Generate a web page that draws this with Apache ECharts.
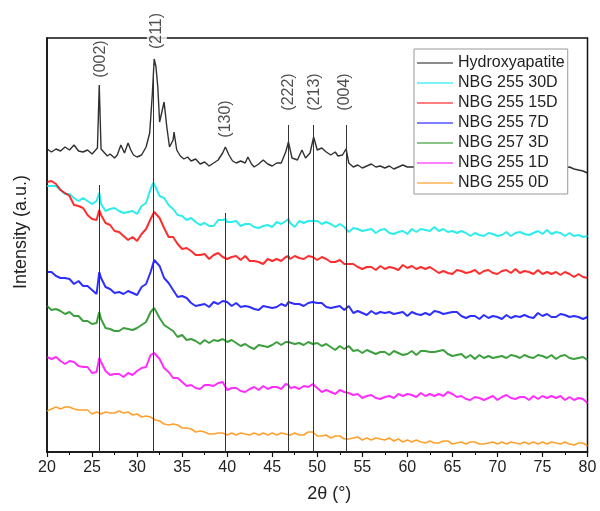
<!DOCTYPE html>
<html>
<head>
<meta charset="utf-8">
<script src="https://cdn.jsdelivr.net/npm/echarts@6/dist/echarts.min.js"></script>
<style>
html, body { margin: 0; padding: 0; background: #fff; }
#chart { width: 600px; height: 511px; }
</style>
</head>
<body>
<div id="chart"></div>
<script>
// XRD patterns, stacked with vertical offsets (arbitrary intensity units), [2θ, intensity]
const hydroxyapatite = [[20,303],[20.5,300],[21,303],[21.5,301],[22,305],[22.5,302],[23,307],[23.5,301],[24,300],[24.5,302],[25,298],[25.3,301],[25.6,304],[25.8,367],[26.0,303],[26.3,300],[26.7,296],[27,298],[27.5,294],[27.8,297],[28.2,307],[28.6,299],[29.0,309],[29.3,302],[29.6,297],[30,295],[30.5,297],[31,305],[31.4,319],[31.7,359],[31.9,393],[32.1,385],[32.3,365],[32.5,330],[32.8,342],[33.0,350],[33.3,325],[33.6,305],[34.0,312],[34.1,320],[34.4,302],[34.8,296],[35.2,293],[35.6,295],[36,291],[36.5,293],[37,288],[37.5,290],[38,286],[38.5,289],[39,292],[39.5,299],[39.8,305],[40.2,297],[40.6,291],[41,289],[41.5,291],[42,289],[42.3,295],[42.7,288],[43,285],[43.5,288],[44,292],[44.5,288],[45,286],[45.5,289],[46,289],[46.5,300],[46.8,310],[47.2,294],[47.8,292],[48.3,302],[48.7,294],[49.2,299],[49.6,315],[50,302],[50.5,304],[51,300],[51.5,297],[52,300],[52.3,296],[52.5,294],[52.8,297],[53,299],[53.2,303],[53.5,289],[54,285],[54.5,287],[55,284],[55.5,286],[56,288],[56.5,285],[57,286],[57.5,284],[58,286],[58.5,283],[59,285],[59.5,287],[60,285],[62,285],[66,285],[70,284],[74,284],[77.5,284],[78,285],[78.5,283],[79,282],[79.5,281],[80,279]];
const nbg255_30D = [[20,266],[20.5,266],[21,266],[21.5,262],[22,258],[22.5,258],[23,254],[23.5,251],[24,254],[24.5,251],[25,248],[25.5,251],[25.8,259],[26,248],[26.5,241],[27,243],[27.5,244],[28,241],[28.5,239],[29,240],[29.5,241],[30,238],[30.5,246],[31,249],[31.5,263],[31.8,269],[32,266],[32.5,256],[33,254],[33.5,247],[34,243],[34.5,237],[35,236],[35.5,232],[36,234],[36.5,230],[37,227],[37.5,229],[38,226],[38.5,226],[39,232],[39.5,232],[39.8,233],[40,230],[40.5,230],[41,231],[41.5,226],[42,228],[42.5,228],[43,225],[43.5,224],[44,226],[44.5,227],[45,225],[45.5,230],[46,228],[46.5,231],[46.8,233],[47,229],[47.5,225],[48,231],[48.5,229],[49,231],[49.5,231],[50,231],[50.5,228],[51,230],[51.5,228],[52,225],[52.5,228],[53,225],[53.5,220],[54,224],[54.5,223],[55,221],[55.5,222],[56,223],[56.5,219],[57,222],[57.5,223],[58,219],[58.5,218],[59,220],[59.5,221],[60,218],[60.5,223],[61,220],[61.5,223],[62,222],[62.5,221],[63,225],[63.5,221],[64,223],[64.5,220],[65,221],[65.5,219],[66,221],[66.5,219],[67,216],[67.5,219],[68,217],[68.5,216],[69,219],[69.5,218],[70,216],[70.5,217],[71,220],[71.5,216],[72,219],[72.5,220],[73,218],[73.5,217],[74,219],[74.5,221],[75,218],[75.5,222],[76,218],[76.5,220],[77,219],[77.5,216],[78,219],[78.5,216],[79,217],[79.5,215],[80,216]];
const nbg255_15D = [[20,270],[20.5,271],[21,268],[21.5,262],[22,259],[22.5,256],[23,247],[23.5,246],[24,244],[24.5,237],[25,233],[25.5,232],[25.8,242],[26,237],[26.5,229],[27,227],[27.5,221],[28,220],[28.5,216],[29,212],[29.5,215],[30,211],[30.5,218],[31,223],[31.5,233],[31.9,240],[32,238],[32.5,234],[33,224],[33.5,215],[34,215],[34.5,208],[35,203],[35.5,204],[36,201],[36.5,197],[37,197],[37.5,198],[38,193],[38.5,197],[39,199],[39.5,195],[40,193],[40.5,195],[41,196],[41.5,192],[42,196],[42.5,191],[43,191],[43.5,190],[44,188],[44.5,193],[45,191],[45.5,193],[46,191],[46.5,195],[46.8,196],[47,193],[47.5,196],[48,194],[48.5,193],[49,196],[49.5,195],[50,192],[50.5,195],[51,193],[51.5,190],[52,190],[52.5,192],[53,188],[53.5,188],[54,188],[54.5,185],[55,183],[55.5,185],[56,185],[56.5,182],[57,186],[57.5,183],[58,185],[58.5,184],[59,182],[59.5,187],[60,184],[60.5,186],[61,183],[61.5,185],[62,183],[62.5,185],[63,182],[63.5,179],[64,181],[64.5,179],[65,178],[65.5,182],[66,181],[66.5,179],[67,180],[67.5,182],[68,178],[68.5,181],[69,182],[69.5,179],[70,178],[70.5,181],[71,182],[71.5,179],[72,183],[72.5,179],[73,181],[73.5,180],[74,178],[74.5,182],[75,178],[75.5,180],[76,178],[76.5,180],[77,177],[77.5,180],[78,178],[78.5,175],[79,178],[79.5,175],[80,174]];
const nbg255_7D = [[20,180],[20.5,180],[21,176],[21.5,174],[22,174],[22.5,173],[23,168],[23.5,171],[24,166],[24.5,166],[25,162],[25.5,158],[25.8,180],[26,174],[26.5,165],[27,163],[27.5,159],[28,160],[28.5,158],[29,161],[29.5,159],[30,157],[30.5,165],[31,168],[31.5,180],[31.9,192],[32,193],[32.5,186],[33,174],[33.5,169],[34,162],[34.5,155],[35,156],[35.5,154],[36,149],[36.5,146],[37,147],[37.5,148],[38,145],[38.5,150],[39,148],[39.5,151],[40,150],[40.5,146],[41,149],[41.5,145],[42,146],[42.5,145],[43,143],[43.5,142],[44,146],[44.5,145],[45,144],[45.5,145],[46,148],[46.5,146],[46.8,150],[47,149],[47.5,148],[48,148],[48.5,146],[49,149],[49.5,150],[50,149],[50.5,149],[51,145],[51.5,144],[52,145],[52.5,146],[53,142],[53.5,146],[54,139],[54.5,141],[55,139],[55.5,137],[56,141],[56.5,138],[57,140],[57.5,139],[58,140],[58.5,138],[59,139],[59.5,140],[60,136],[60.5,140],[61,138],[61.5,137],[62,139],[62.5,137],[63,141],[63.5,140],[64,138],[64.5,139],[65,140],[65.5,140],[66,136],[66.5,134],[67,136],[67.5,136],[68,133],[68.5,137],[69,134],[69.5,136],[70,135],[70.5,133],[71,137],[71.5,134],[72,136],[72.5,135],[73,137],[73.5,135],[74,134],[74.5,139],[75,136],[75.5,138],[76,135],[76.5,135],[77,138],[77.5,137],[78,135],[78.5,136],[79,135],[79.5,133],[80,135]];
const nbg257_3D = [[20,146],[20.5,142],[21,143],[21.5,141],[22,138],[22.5,140],[23,136],[23.5,136],[24,131],[24.5,131],[25,128],[25.5,129],[25.8,140],[26,133],[26.5,124],[27,123],[27.5,121],[28,121],[28.5,124],[29,123],[29.5,122],[30,124],[30.5,127],[31,130],[31.5,140],[31.9,144],[32,144],[32.5,134],[33,127],[33.5,124],[34,121],[34.5,115],[35,117],[35.5,112],[36,113],[36.5,111],[37,108],[37.5,112],[38,109],[38.5,112],[39,111],[39.5,113],[40,110],[40.5,112],[41,109],[41.5,106],[42,108],[42.5,105],[43,103],[43.5,107],[44,106],[44.5,105],[45,107],[45.5,110],[46,107],[46.5,110],[46.8,110],[47,108],[47.5,108],[48,109],[48.5,107],[49,110],[49.5,108],[50,109],[50.5,106],[51,108],[51.5,105],[52,102],[52.5,106],[53,103],[53.5,106],[54,101],[54.5,102],[55,99],[55.5,102],[56,100],[56.5,98],[57,100],[57.5,100],[58,97],[58.5,101],[59,99],[59.5,97],[60,98],[60.5,101],[61,97],[61.5,101],[62,101],[62.5,100],[63,100],[63.5,101],[64,102],[64.5,98],[65,96],[65.5,97],[66,98],[66.5,94],[67,97],[67.5,93],[68,97],[68.5,94],[69,96],[69.5,94],[70,95],[70.5,96],[71,94],[71.5,97],[72,96],[72.5,94],[73,97],[73.5,95],[74,94],[74.5,97],[75,96],[75.5,94],[76,97],[76.5,93],[77,96],[77.5,97],[78,94],[78.5,93],[79,94],[79.5,95],[80,92]];
const nbg255_1D = [[20,95],[20.5,93],[21,95],[21.5,91],[22,88],[22.5,91],[23,90],[23.5,86],[24,85],[24.5,85],[25,79],[25.5,80],[25.8,94],[26,90],[26.5,81],[27,77],[27.5,78],[28,78],[28.5,75],[29,79],[29.5,77],[30,81],[30.5,84],[31,85],[31.5,97],[31.9,99],[32,97],[32.5,93],[33,84],[33.5,80],[34,74],[34.5,74],[35,70],[35.5,66],[36,67],[36.5,64],[37,63],[37.5,67],[38,67],[38.5,66],[39,69],[39.5,70],[40,62],[40.5,64],[41,64],[41.5,61],[42,60],[42.5,63],[43,65],[43.5,62],[44,66],[44.5,63],[45,65],[45.5,65],[46,63],[46.5,68],[46.8,67],[47,64],[47.5,65],[48,63],[48.5,66],[49,65],[49.5,68],[50,64],[50.5,60],[51,62],[51.5,60],[52,58],[52.5,62],[53,60],[53.5,59],[54,57],[54.5,58],[55,54],[55.5,56],[56,57],[56.5,54],[57,53],[57.5,55],[58,56],[58.5,54],[59,58],[59.5,56],[60,58],[60.5,57],[61,55],[61.5,59],[62,56],[62.5,58],[63,56],[63.5,58],[64,56],[64.5,60],[65,58],[65.5,55],[66,56],[66.5,53],[67,52],[67.5,55],[68,54],[68.5,52],[69,54],[69.5,56],[70,52],[70.5,55],[71,57],[71.5,54],[72,53],[72.5,55],[73,55],[73.5,52],[74,56],[74.5,53],[75,56],[75.5,54],[76,56],[76.5,54],[77,56],[77.5,52],[78,55],[78.5,52],[79,54],[79.5,53],[80,49]];
const nbg255_0D = [[20,41],[20.5,43],[21,45],[21.5,43],[22,45],[22.5,45],[23,43],[23.5,42],[24,42],[24.5,42],[25,38],[25.5,40],[26,38],[26.5,40],[27,39],[27.5,39],[28,41],[28.5,39],[29,40],[29.5,37],[30,38],[30.5,35],[31,36],[31.5,35],[32,32],[32.5,31],[33,28],[33.5,27],[34,28],[34.5,27],[35,24],[35.5,24],[36,23],[36.5,20],[37,21],[37.5,20],[38,18],[38.5,18],[39,19],[39.5,19],[40,17],[40.5,19],[41,17],[41.5,19],[42,18],[42.5,17],[43,19],[43.5,17],[44,19],[44.5,17],[45,19],[45.5,17],[46,19],[46.5,18],[47,17],[47.5,19],[48,17],[48.5,17],[49,20],[49.5,20],[50,16],[50.5,16],[51,17],[51.5,14],[52,16],[52.5,16],[53,13],[53.5,13],[54,14],[54.5,15],[55,12],[55.5,14],[56,12],[56.5,14],[57,13],[57.5,12],[58,14],[58.5,11],[59,13],[59.5,10],[60,12],[60.5,10],[61,12],[61.5,10],[62,9],[62.5,11],[63,9],[63.5,9],[64,11],[64.5,11],[65,8],[65.5,9],[66,10],[66.5,8],[67,10],[67.5,10],[68,8],[68.5,8],[69,9],[69.5,10],[70,8],[70.5,10],[71,8],[71.5,10],[72,9],[72.5,8],[73,10],[73.5,8],[74,10],[74.5,8],[75,10],[75.5,8],[76,10],[76.5,9],[77,8],[77.5,10],[78,8],[78.5,7],[79,9],[79.5,9],[80,6]];

// Hydroxyapatite reflections
const peakHkl = ['(002)', '(211)', '(130)', '(222)', '(213)', '(004)'];
const peakTwoTheta = [25.8, 31.8, 39.8, 46.8, 49.6, 53.2];

const seriesNames = ['Hydroxyapatite', 'NBG 255 30D', 'NBG 255 15D', 'NBG 255 7D', 'NBG 257 3D', 'NBG 255 1D', 'NBG 255 0D'];
const seriesData = [hydroxyapatite, nbg255_30D, nbg255_15D, nbg255_7D, nbg257_3D, nbg255_1D, nbg255_0D];
const seriesColors = ['#1a1a1a', '#00e8e8', '#ff0000', '#0000ff', '#138a13', '#ff00ff', '#ff8c00'];
const seriesWidths = [1.4, 2, 2, 2, 2, 2, 1.6];

// reference-line heights and label anchors (intensity units)
const lineTops = [267, 377, 239, 327, 327, 327];
const labelAnchor = [[25.99, 393], [32.2, 421], [39.85, 333], [46.84, 360], [49.72, 360], [53.05, 360]];

const FONT = 'Liberation Sans, Arial, sans-serif';
const chart = echarts.init(document.getElementById('chart'));

const series = seriesNames.map((name, i) => ({
  name: name,
  type: 'line',
  data: seriesData[i],
  symbol: 'none',
  color: seriesColors[i],
  lineStyle: { width: seriesWidths[i], color: seriesColors[i], opacity: i === 0 ? 0.9 : 0.82 },
  z: 2
}));

series.push({
  name: 'refs',
  type: 'scatter',
  data: peakHkl.map((h, i) => ({ value: labelAnchor[i], hkl: h })),
  symbolSize: 0,
  clip: false,
  silent: true,
  z: 5,
  label: {
    show: true,
    position: 'inside',
    rotate: 90,
    formatter: p => p.data.hkl,
    fontFamily: FONT,
    fontSize: 16,
    color: '#222',
    backgroundColor: '#fff',
    padding: [2, 0]
  },
  markLine: {
    silent: true,
    symbol: 'none',
    animation: false,
    label: { show: false },
    lineStyle: { color: '#333', width: 1, type: 'solid' },
    data: peakTwoTheta.map((t, i) => [{ coord: [t, 0] }, { coord: [t, lineTops[i]] }])
  }
});

chart.setOption({
  animation: false,
  backgroundColor: '#fff',
  grid: { left: 47, right: 12.5, top: 38, bottom: 59, show: true, borderColor: '#111', borderWidth: 1.5, backgroundColor: 'transparent' },
  legend: {
    data: seriesNames,
    orient: 'vertical',
    left: 414,
    top: 49,
    width: 154,
    padding: [6, 3, 3, 3],
    itemGap: 4,
    itemWidth: 36,
    itemHeight: 14,
    itemTextGap: 5,
    backgroundColor: '#fff',
    borderColor: '#999',
    borderWidth: 1,
    borderRadius: 0,
    icon: 'path://M0,0 L36,0 L36,1 L0,1 Z',
    lineStyle: { width: 1.2, opacity: 0.4 },
    textStyle: { fontFamily: FONT, fontSize: 16, color: '#222', lineHeight: 16 }
  },
  xAxis: {
    type: 'value',
    min: 20,
    max: 80,
    interval: 5,
    name: '2θ (°)',
    nameLocation: 'middle',
    nameGap: 33,
    nameTextStyle: { fontFamily: FONT, fontSize: 18, color: '#222', padding: [0, 0, 0, 24] },
    axisLine: { show: true, lineStyle: { color: '#111', width: 1.5 } },
    axisTick: { show: true, inside: false, length: 5, lineStyle: { color: '#111', width: 1.2 } },
    minorTick: { show: true, splitNumber: 2, length: 3, lineStyle: { color: '#111', width: 1 } },
    axisLabel: { fontFamily: FONT, fontSize: 16, color: '#222', margin: 8 },
    splitLine: { show: false }
  },
  yAxis: {
    type: 'value',
    min: 0,
    max: 414,
    name: 'Intensity (a.u.)',
    nameLocation: 'middle',
    nameGap: 17,
    nameTextStyle: { fontFamily: FONT, fontSize: 18, color: '#222', padding: [0, 0, 0, 26] },
    axisLine: { show: true, lineStyle: { color: '#111', width: 1.5 } },
    axisTick: { show: false },
    axisLabel: { show: false },
    splitLine: { show: false }
  },
  series: series
});
</script>
</body>
</html>
